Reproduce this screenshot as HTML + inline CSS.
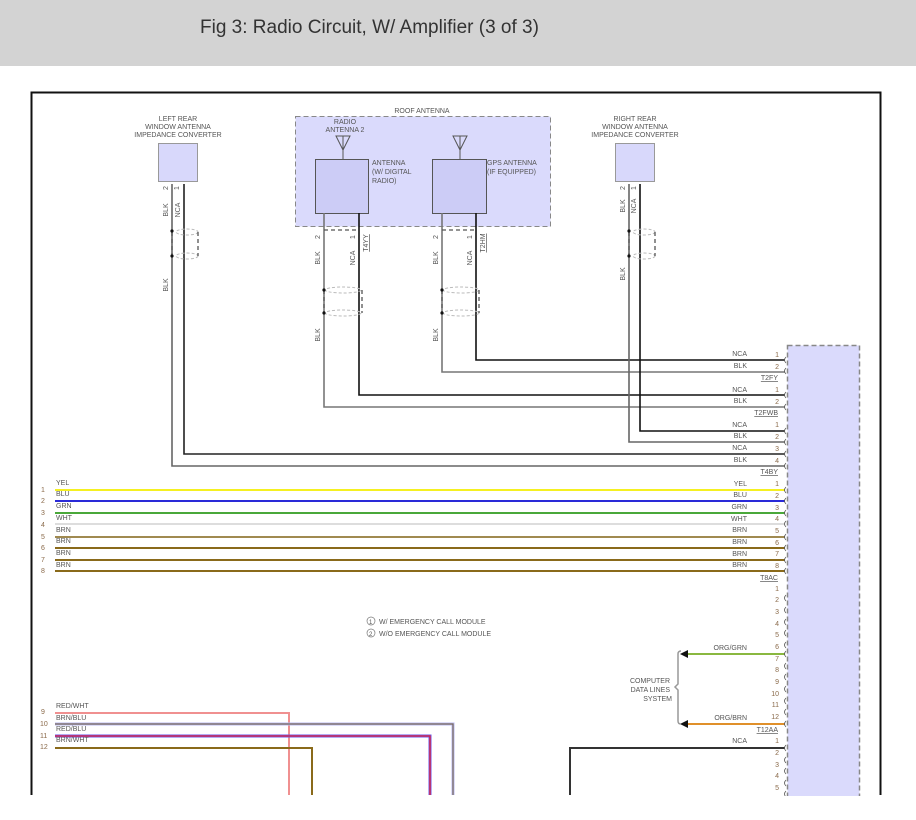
<!DOCTYPE html>
<html><head><meta charset="utf-8"><style>
body{margin:0;background:#fff;width:916px;height:815px;overflow:hidden;font-family:"Liberation Sans",sans-serif}
</style></head><body>
<svg width="916" height="815" xmlns="http://www.w3.org/2000/svg" font-family="Liberation Sans, sans-serif">
<rect x="0" y="0" width="916" height="66" fill="#d3d3d3"/>
<text x="200" y="33" font-size="19" fill="#333">Fig 3: Radio Circuit, W/ Amplifier (3 of 3)</text>
<path d="M31.5 795 V92.5 H880.5 V795" fill="none" stroke="#111" stroke-width="2"/>

<g font-size="7" fill="#555">
<text x="178" y="121" text-anchor="middle">LEFT REAR</text>
<text x="178" y="129" text-anchor="middle">WINDOW ANTENNA</text>
<text x="178" y="137" text-anchor="middle">IMPEDANCE CONVERTER</text>
<rect x="158.5" y="143.5" width="39" height="38" fill="#d8d8fb" stroke="#999"/>
<text x="635" y="121" text-anchor="middle">RIGHT REAR</text>
<text x="635" y="129" text-anchor="middle">WINDOW ANTENNA</text>
<text x="635" y="137" text-anchor="middle">IMPEDANCE CONVERTER</text>
<rect x="615.5" y="143.5" width="39" height="38" fill="#d8d8fb" stroke="#999"/>
<text x="422" y="113" text-anchor="middle">ROOF ANTENNA</text>
<rect x="295.5" y="116.5" width="255" height="110" fill="#dadafc" stroke="#888" stroke-dasharray="5,3"/>
<text x="345" y="124" text-anchor="middle">RADIO</text>
<text x="345" y="132" text-anchor="middle">ANTENNA 2</text>
<path d="M336 136 H350 L343 150 Z M343 136 V159" fill="none" stroke="#555"/>
<path d="M453 136 H467 L460 150 Z M460 136 V159" fill="none" stroke="#555"/>
<rect x="315.5" y="159.5" width="53" height="54" fill="#ccccf6" stroke="#555"/>
<rect x="432.5" y="159.5" width="54" height="54" fill="#ccccf6" stroke="#555"/>
<text x="372" y="165">ANTENNA</text><text x="372" y="174">(W/ DIGITAL</text><text x="372" y="183">RADIO)</text>
<text x="487" y="165">GPS ANTENNA</text><text x="487" y="174">(IF EQUIPPED)</text>
</g>

<g fill="none" stroke-width="1.6">
<path d="M324 213 V407 H785" stroke="#777"/>
<path d="M359 213 V395 H785" stroke="#111"/>
<path d="M442 213 V372 H785" stroke="#777"/>
<path d="M476 213 V360 H785" stroke="#111"/>
<path d="M172 184 V466 H785" stroke="#666"/>
<path d="M184 184 V454 H785" stroke="#222"/>
<path d="M629 184 V442 H785" stroke="#666"/>
<path d="M640 184 V431 H785" stroke="#111"/>
<path d="M55 490 H785" stroke="#f5f021" stroke-width="2"/>
<path d="M55 501 H785" stroke="#2a2ad8" stroke-width="2"/>
<path d="M55 513 H785" stroke="#4aa83a" stroke-width="2"/>
<path d="M55 524 H785" stroke="#ddd" stroke-width="2"/>
<path d="M55 537 H785" stroke="#a08a50" stroke-width="2"/>
<path d="M55 548 H785" stroke="#8a6a1a" stroke-width="2"/>
<path d="M55 560 H785" stroke="#8a6a1a" stroke-width="2"/>
<path d="M55 571 H785" stroke="#8a6a1a" stroke-width="2"/>
<path d="M686 654 H785" stroke="#8ab840" stroke-width="2"/>
<path d="M686 724 H785" stroke="#e0902a" stroke-width="2"/>
<path d="M570 795 V748 H785" stroke="#333" stroke-width="2"/>
<path d="M55 713 H289 V795" stroke="#f09090" stroke-width="2"/>
<path d="M55 724 H453 V795" stroke="#b8b8f0" stroke-width="3"/>
<path d="M55 724 H453 V795" stroke="#7a6a5a" stroke-width="1.2"/>
<path d="M55 736 H430 V795" stroke="#6a5ae8" stroke-width="3"/>
<path d="M55 736 H430 V795" stroke="#e0203a" stroke-width="1.3"/>
<path d="M55 748 H312 V795" stroke="#8a6a1a" stroke-width="2"/>
</g>
<path d="M680 654 l8 -4 v8 Z M680 724 l8 -4 v8 Z" fill="#111"/>
<path d="M681 651 q-3 0 -3 3 v30 l-3 3 l3 3 v31 q0 3 3 3" fill="none" stroke="#999" stroke-width="1.5"/>

<g fill="none" stroke="#bbb" stroke-dasharray="3,2">
<ellipse cx="187" cy="232" rx="11" ry="3"/><ellipse cx="187" cy="256" rx="11" ry="3"/>
<ellipse cx="644" cy="232" rx="11" ry="3"/><ellipse cx="644" cy="256" rx="11" ry="3"/>
<ellipse cx="343" cy="290" rx="18" ry="3"/><ellipse cx="343" cy="313" rx="18" ry="3"/>
<ellipse cx="461" cy="290" rx="18" ry="3"/><ellipse cx="461" cy="313" rx="18" ry="3"/>
</g>
<g fill="none" stroke="#555" stroke-dasharray="4,3" stroke-width="1.3">
<path d="M172 232 V256 M198 232 V256 M629 232 V256 M655 232 V256 M324 290 V313 M362 290 V313 M442 290 V313 M479 290 V313 M324 230 H359 M442 230 H476"/>
</g>
<g fill="#111"><circle cx="172" cy="231" r="1.6"/><circle cx="172" cy="256" r="1.6"/><circle cx="629" cy="231" r="1.6"/><circle cx="629" cy="256" r="1.6"/><circle cx="324" cy="290" r="1.6"/><circle cx="324" cy="313" r="1.6"/><circle cx="442" cy="290" r="1.6"/><circle cx="442" cy="313" r="1.6"/></g>

<g font-size="7" fill="#555" text-anchor="middle">
<text transform="translate(168,188) rotate(-90)">2</text><text transform="translate(179,188) rotate(-90)">1</text>
<text transform="translate(168,210) rotate(-90)">BLK</text><text transform="translate(180,210) rotate(-90)">NCA</text>
<text transform="translate(168,285) rotate(-90)">BLK</text>
<text transform="translate(625,188) rotate(-90)">2</text><text transform="translate(636,188) rotate(-90)">1</text>
<text transform="translate(625,206) rotate(-90)">BLK</text><text transform="translate(636,206) rotate(-90)">NCA</text>
<text transform="translate(625,274) rotate(-90)">BLK</text>
<text transform="translate(320,237) rotate(-90)">2</text><text transform="translate(355,237) rotate(-90)">1</text>
<text transform="translate(320,258) rotate(-90)">BLK</text><text transform="translate(355,258) rotate(-90)">NCA</text>
<text transform="translate(368,243) rotate(-90)" text-decoration="underline">T4YY</text>
<text transform="translate(320,335) rotate(-90)">BLK</text>
<text transform="translate(438,237) rotate(-90)">2</text><text transform="translate(472,237) rotate(-90)">1</text>
<text transform="translate(438,258) rotate(-90)">BLK</text><text transform="translate(472,258) rotate(-90)">NCA</text>
<text transform="translate(485,243) rotate(-90)" text-decoration="underline">T2HM</text>
<text transform="translate(438,335) rotate(-90)">BLK</text>
</g>

<rect x="787.5" y="345.5" width="72" height="470" fill="#dadafc" stroke="#888" stroke-dasharray="5,3" stroke-width="1.5"/>

<g font-size="7" fill="#555" text-anchor="end">
<text x="747" y="356">NCA</text><text x="747" y="368">BLK</text><text x="778" y="380" text-decoration="underline">T2FY</text>
<text x="747" y="392">NCA</text><text x="747" y="403">BLK</text><text x="778" y="415" text-decoration="underline">T2FWB</text>
<text x="747" y="427">NCA</text><text x="747" y="438">BLK</text><text x="747" y="450">NCA</text><text x="747" y="462">BLK</text><text x="778" y="474" text-decoration="underline">T4BY</text>
<text x="747" y="486">YEL</text><text x="747" y="497">BLU</text><text x="747" y="509">GRN</text><text x="747" y="521">WHT</text>
<text x="747" y="532">BRN</text><text x="747" y="544">BRN</text><text x="747" y="556">BRN</text><text x="747" y="567">BRN</text>
<text x="778" y="580" text-decoration="underline">T8AC</text>
<text x="747" y="650">ORG/GRN</text><text x="747" y="720">ORG/BRN</text>
<text x="778" y="732" text-decoration="underline">T12AA</text>
<text x="747" y="743">NCA</text>
<text x="670" y="683">COMPUTER</text><text x="670" y="692">DATA LINES</text><text x="672" y="701">SYSTEM</text>
</g>
<g font-size="7" fill="#8a6a4a" text-anchor="end">
<text x="779" y="357">1</text><text x="779" y="369">2</text>
<text x="779" y="392">1</text><text x="779" y="404">2</text>
<text x="779" y="427">1</text><text x="779" y="439">2</text><text x="779" y="451">3</text><text x="779" y="463">4</text>
<text x="779" y="486">1</text><text x="779" y="498">2</text><text x="779" y="510">3</text><text x="779" y="521">4</text><text x="779" y="533">5</text><text x="779" y="545">6</text><text x="779" y="556">7</text><text x="779" y="568">8</text>
<text x="779" y="591">1</text><text x="779" y="602">2</text><text x="779" y="614">3</text><text x="779" y="626">4</text><text x="779" y="637">5</text><text x="779" y="649">6</text><text x="779" y="661">7</text><text x="779" y="672">8</text><text x="779" y="684">9</text><text x="779" y="696">10</text><text x="779" y="707">11</text><text x="779" y="719">12</text>
<text x="779" y="743">1</text><text x="779" y="755">2</text><text x="779" y="767">3</text><text x="779" y="778">4</text><text x="779" y="790">5</text>
</g>
<g fill="none" stroke="#555" stroke-width="0.8">
<path d="M786 357 q-3 3 0 6 M786 368 q-3 3 0 6 M786 392 q-3 3 0 6 M786 404 q-3 3 0 6 M786 428 q-3 3 0 6 M786 439 q-3 3 0 6 M786 451 q-3 3 0 6 M786 463 q-3 3 0 6 M786 487 q-3 3 0 6 M786 498 q-3 3 0 6 M786 510 q-3 3 0 6 M786 521 q-3 3 0 6 M786 534 q-3 3 0 6 M786 545 q-3 3 0 6 M786 557 q-3 3 0 6 M786 568 q-3 3 0 6 M786 595 q-3 3 0 6 M786 607 q-3 3 0 6 M786 619 q-3 3 0 6 M786 630 q-3 3 0 6 M786 642 q-3 3 0 6 M786 651 q-3 3 0 6 M786 663 q-3 3 0 6 M786 674 q-3 3 0 6 M786 686 q-3 3 0 6 M786 698 q-3 3 0 6 M786 709 q-3 3 0 6 M786 721 q-3 3 0 6 M786 745 q-3 3 0 6 M786 757 q-3 3 0 6 M786 768 q-3 3 0 6 M786 780 q-3 3 0 6 M786 791 q-3 3 0 6"/>
</g>

<g font-size="7" fill="#555">
<text x="56" y="485">YEL</text><text x="56" y="496">BLU</text><text x="56" y="508">GRN</text><text x="56" y="520">WHT</text>
<text x="56" y="532">BRN</text><text x="56" y="543">BRN</text><text x="56" y="555">BRN</text><text x="56" y="567">BRN</text>
<text x="56" y="708">RED/WHT</text><text x="56" y="720">BRN/BLU</text><text x="56" y="731">RED/BLU</text><text x="56" y="742">BRN/WHT</text>
</g>
<g font-size="7" fill="#8a6a4a">
<text x="41" y="492">1</text><text x="41" y="503">2</text><text x="41" y="515">3</text><text x="41" y="527">4</text>
<text x="41" y="539">5</text><text x="41" y="550">6</text><text x="41" y="562">7</text><text x="41" y="573">8</text>
<text x="41" y="714">9</text><text x="40" y="726">10</text><text x="40" y="738">11</text><text x="40" y="749">12</text>
</g>
<g font-size="7" fill="#555">
<circle cx="371" cy="621" r="4" fill="none" stroke="#777" stroke-width="0.7"/><text x="369" y="624" font-size="6">1</text>
<circle cx="371" cy="633" r="4" fill="none" stroke="#777" stroke-width="0.7"/><text x="369" y="636" font-size="6">2</text>
<text x="379" y="624">W/ EMERGENCY CALL MODULE</text>
<text x="379" y="636">W/O EMERGENCY CALL MODULE</text>
</g>
<rect x="0" y="796" width="916" height="19" fill="#fff"/>
</svg>
</body></html>
